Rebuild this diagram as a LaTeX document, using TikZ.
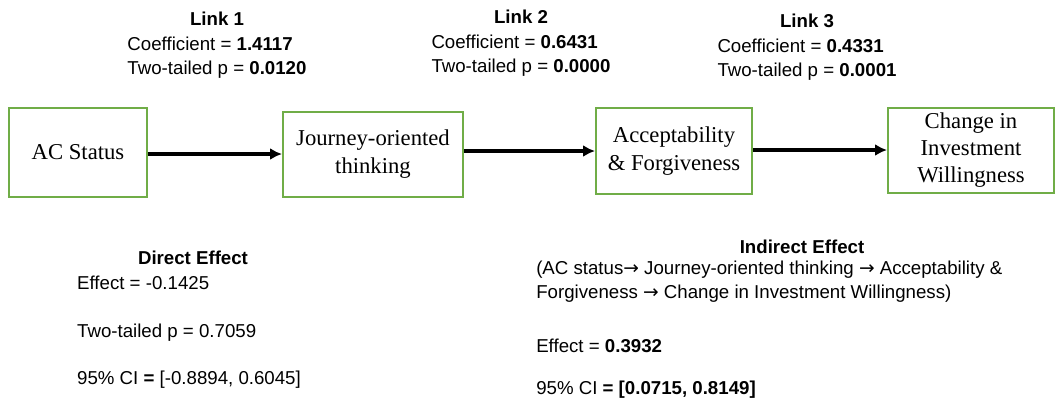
\documentclass[tikz,border=0pt]{standalone}
\usepackage{fontspec}
\setmainfont{Liberation Serif}
\setsansfont{Liberation Sans}
\newfontfamily\arrowfont{DejaVu Sans}
\newcommand{\rarr}{{\arrowfont →}}
\usepackage{tikz}
\usetikzlibrary{positioning, arrows.meta}
\definecolor{boxgreen}{HTML}{70AD47}

\begin{document}
\begin{tikzpicture}[
  x=0.75pt, y=-0.75pt,
  node distance=8pt,
  varbox/.style={draw=boxgreen, line width=1.5pt, align=center, inner sep=2pt, font=\fontsize{17}{20.5}\selectfont},
  head/.style={font=\sffamily\bfseries\fontsize{14}{17.5}\selectfont, inner sep=0pt},
  stat/.style={font=\sffamily\fontsize{14}{17.8}\selectfont, align=left, inner sep=0pt},
  arrow/.style={-{Latex[length=9pt, width=9pt]}, line width=2.8pt},
]
  \useasboundingbox (0,0) rectangle (1055,401);

  % Variables
  \node (acstatus) [varbox, minimum width=103.5pt, minimum height=66.75pt] at (78,152.5) {AC Status};
  \node (journey) [varbox, minimum width=135pt, minimum height=63.75pt] at (373,154) {Journey-oriented\\thinking};
  \node (accept) [varbox, minimum width=117pt, minimum height=64.5pt] at (674,151) {Acceptability\\\& Forgiveness};
  \node (change) [varbox, minimum width=124.5pt, minimum height=63.75pt] at (971,150) {Change in\\Investment\\Willingness};

  % Links
  \foreach \a/\b in {acstatus/journey, journey/accept, accept/change} {
    \draw [arrow] (\b.west -| \a.east) -- (\b.west);
  }

  % Link statistics
  \node (link1) [head] at (217,19) {Link 1};
  \node (coef1) [stat, below=of link1] {Coefficient = \textbf{1.4117}\\Two-tailed p = \textbf{0.0120}};
  \node (link2) [head] at (521,17) {Link 2};
  \node (coef2) [stat, below=of link2] {Coefficient = \textbf{0.6431}\\Two-tailed p = \textbf{0.0000}};
  \node (link3) [head] at (807,21) {Link 3};
  \node (coef3) [stat, below=of link3] {Coefficient = \textbf{0.4331}\\Two-tailed p = \textbf{0.0001}};

  % Direct effect
  \node (direct) [head] at (193,258) {Direct Effect};
  \node (directval) [stat, below=of direct, xshift=-3pt] {Effect = -0.1425\\[17.8pt]Two-tailed p = 0.7059\\[17.8pt]95\% CI \textbf{=} [-0.8894, 0.6045]};

  % Indirect effect
  \node (indirect) [head] at (802,247) {Indirect Effect};
  \node (indirectval) [stat, anchor=north west] at (536,261) {(AC status\rarr{} Journey-oriented thinking \rarr{} Acceptability \&\\Forgiveness \rarr{} Change in Investment Willingness)\\[23pt]Effect = \textbf{0.3932}\\[13.5pt]95\% CI \textbf{= [0.0715, 0.8149]}};
\end{tikzpicture}
\end{document}
